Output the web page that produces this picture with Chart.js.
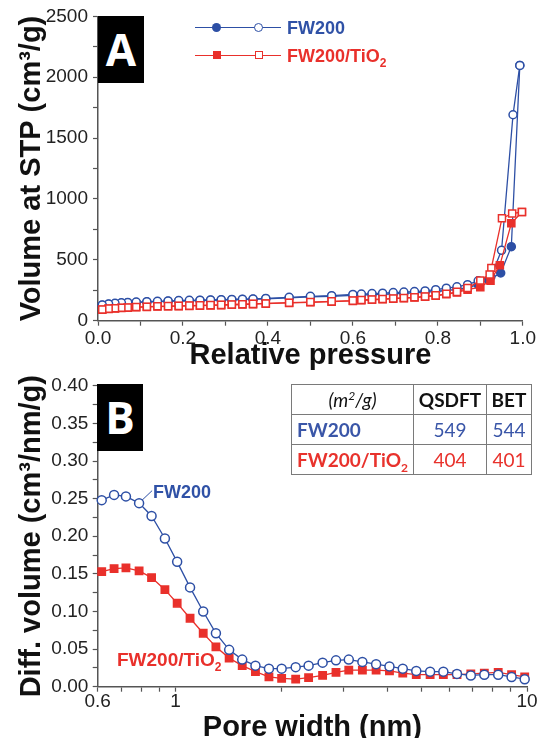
<!DOCTYPE html>
<html lang="en">
<head>
<meta charset="UTF-8">
<title>FW200 isotherms and pore size distribution</title>
<script src="https://cdn.jsdelivr.net/npm/chart.js"></script>
<style>
    body { margin: 0; background: #fff; font-family: Arial, "Liberation Sans", sans-serif; }
    .page { position: relative; width: 538px; height: 738px; overflow: hidden; }
    .panel { position: absolute; left: 0; width: 538px; }
    .tag { position: absolute; width: 46px; height: 67px; background: #000; color: #fff;
           font: bold 44px "Open Sans", Arial, sans-serif; text-align: center; line-height: 67px; }
    .lg-line { position: absolute; left: 195px; width: 86px; height: 1.5px; }
    .dot { position: absolute; width: 9px; height: 9px; border-radius: 50%; box-sizing: border-box; }
    .sq { position: absolute; width: 8px; height: 8px; box-sizing: border-box; }
    .note { position: absolute; font-weight: bold; font-size: 18px; line-height: 18px; white-space: nowrap; }
    .note sub { font-size: 12px; line-height: 0; vertical-align: -5px; }
    table.area { position: absolute; left: 291px; top: 384px; border-collapse: collapse;
                 font-family: Lato, "Open Sans", sans-serif; font-size: 19px; table-layout: fixed; }
    table.area td { border: 1.3px solid #7a7a7a; height: 29px; padding: 0; text-align: center; }
    table.area td.name { text-align: left; padding-left: 5px; font-weight: bold; }
    table.area th { border: 1.3px solid #7a7a7a; height: 29px; padding: 0; color: #111; }
    table.area sub { font-size: 12px; line-height: 0; vertical-align: -5px; }
</style>
</head>
<body>
<div class="page">
    <div class="panel" style="top:0;height:370px"><canvas id="chartA" width="538" height="370"></canvas></div>
    <div class="panel" style="top:370px;height:372px"><canvas id="chartB" width="538" height="372"></canvas></div>

    <div class="tag" style="left:98px;top:16px">A</div>
    <div class="tag" style="left:97px;top:384px">B</div>

    <!-- legend of panel A -->
    <div class="lg-line" style="top:26.5px;background:#2d4fa5"></div>
    <div class="dot" style="left:212px;top:22.8px;background:#2d4fa5"></div>
    <div class="dot" style="left:254px;top:22.8px;background:#fff;border:1.5px solid #2d4fa5"></div>
    <div class="note" style="left:287px;top:18.5px;color:#2f51a6">FW200</div>
    <div class="lg-line" style="top:54.5px;background:#e9302b"></div>
    <div class="sq" style="left:212.7px;top:51.3px;background:#e9302b"></div>
    <div class="sq" style="left:254.7px;top:51.3px;background:#fff;border:1.5px solid #e9302b"></div>
    <div class="note" style="left:287px;top:47px;color:#e9302b">FW200/TiO<sub>2</sub></div>

    <!-- labels of panel B -->
    <div class="note" style="left:153px;top:483px;color:#2f51a6">FW200</div>
    <div class="note" style="left:117px;top:651px;color:#e9302b;font-size:19px">FW200/TiO<sub>2</sub></div>

    <table class="area">
        <colgroup><col style="width:122px"><col style="width:73px"><col style="width:45px"></colgroup>
        <tr><th style="font-weight:normal;font-style:italic">(m<sup style="font-size:12px;line-height:0">2</sup>/g)</th><th>QSDFT</th><th>BET</th></tr>
        <tr style="color:#3a56a8"><td class="name">FW200</td><td>549</td><td>544</td></tr>
        <tr style="color:#e8322c"><td class="name">FW200/TiO<sub>2</sub></td><td>404</td><td>401</td></tr>
    </table>
</div>

<script>
    // Panel A: N2 isotherms (relative pressure vs volume at STP)
    const fwAdsP = [0.01, 0.025, 0.04, 0.055, 0.07, 0.09, 0.115, 0.14, 0.165, 0.19, 0.215, 0.24, 0.265, 0.29, 0.315, 0.34, 0.365, 0.395,
                    0.45, 0.50, 0.55, 0.60, 0.62, 0.645, 0.67, 0.695, 0.72, 0.745, 0.77, 0.795, 0.82, 0.845, 0.87, 0.895, 0.92, 0.948, 0.973, 0.993];
    const fwAdsV = [127, 135, 140, 144, 147, 150, 153, 156, 159, 162, 164, 166, 168, 170, 172, 174, 176, 180,
                    188, 195, 201, 208, 211, 214, 217, 221, 225, 229, 234, 240, 248, 258, 272, 296, 335, 392, 608, 2097];
    const fwDesP = [0.993, 0.977, 0.95, 0.925, 0.895, 0.87, 0.845, 0.82, 0.795, 0.77, 0.745, 0.72, 0.695, 0.67, 0.645, 0.62, 0.60,
                    0.55, 0.50, 0.45, 0.395, 0.365, 0.34, 0.315, 0.29, 0.265, 0.24, 0.215, 0.19, 0.165, 0.14, 0.115, 0.09, 0.07, 0.055, 0.04, 0.025, 0.01];
    const fwDesV = [2097, 1692, 578, 362, 328, 296, 278, 267, 255, 245, 239, 235, 231, 226, 223, 219, 216,
                    206, 200, 192, 183, 179, 177, 175, 173, 171, 169, 167, 165, 162, 159, 156, 153, 150, 147, 143, 138, 130];
    const tiAdsP = [0.01, 0.025, 0.04, 0.055, 0.07, 0.09, 0.115, 0.14, 0.165, 0.19, 0.215, 0.24, 0.265, 0.29, 0.315, 0.34, 0.365, 0.395,
                    0.45, 0.50, 0.55, 0.60, 0.62, 0.645, 0.67, 0.695, 0.72, 0.745, 0.77, 0.795, 0.82, 0.845, 0.87, 0.90, 0.924, 0.946, 0.973, 0.998];
    const tiAdsV = [90, 97, 101, 104, 107, 110, 113, 116, 118, 120, 122, 124, 126, 128, 131, 133, 136, 140,
                    146, 151, 157, 163, 168, 172, 176, 181, 185, 190, 197, 205, 217, 232, 255, 275, 329, 455, 800, 893];
    const tiDesP = [0.998, 0.975, 0.951, 0.926, 0.922, 0.90, 0.87, 0.845, 0.82, 0.795, 0.77, 0.745, 0.72, 0.695, 0.67, 0.645, 0.62, 0.60,
                    0.55, 0.50, 0.45, 0.395, 0.365, 0.34, 0.315, 0.29, 0.265, 0.24, 0.215, 0.19, 0.165, 0.14, 0.115, 0.09, 0.07, 0.055, 0.04, 0.025, 0.01];
    const tiDesV = [893, 880, 842, 433, 380, 330, 268, 237, 221, 208, 199, 192, 187, 183, 178, 174, 170, 165,
                    159, 153, 148, 142, 138, 135, 133, 130, 128, 126, 124, 122, 120, 118, 115, 112, 109, 106, 103, 99, 92];

    // Panel B: pore size distribution
    const poreWidth = [0.616, 0.668, 0.722, 0.787, 0.854, 0.932, 1.010, 1.099, 1.198, 1.302, 1.420, 1.547, 1.687, 1.843, 2.003, 2.196, 2.39,
                       2.62, 2.86, 3.11, 3.40, 3.72, 4.06, 4.43, 4.84, 5.30, 5.78, 6.32, 6.92, 7.56, 8.28, 9.04, 9.85];
    const fwPsd = [0.248, 0.255, 0.253, 0.244, 0.227, 0.197, 0.166, 0.132, 0.100, 0.071, 0.049, 0.036, 0.028, 0.024, 0.024, 0.026, 0.028,
                   0.032, 0.035, 0.036, 0.033, 0.030, 0.027, 0.024, 0.021, 0.020, 0.020, 0.017, 0.015, 0.016, 0.016, 0.013, 0.010];
    const tiPsd = [0.153, 0.157, 0.158, 0.154, 0.145, 0.129, 0.111, 0.091, 0.071, 0.053, 0.038, 0.028, 0.020, 0.013, 0.011, 0.010, 0.012,
                   0.015, 0.019, 0.022, 0.022, 0.022, 0.021, 0.018, 0.016, 0.016, 0.016, 0.016, 0.017, 0.018, 0.019, 0.016, 0.013];

    // Tick positions (all) and the ones that get a label
    const xTicksA = [0, 0.1, 0.2, 0.3, 0.4, 0.5, 0.6, 0.7, 0.8, 0.9, 1.0];
    const xLabelsA = [0, 0.2, 0.4, 0.6, 0.8, 1.0];
    const yTicksA = [0, 250, 500, 750, 1000, 1250, 1500, 1750, 2000, 2250, 2500];
    const yLabelsA = [0, 500, 1000, 1500, 2000, 2500];
    const xTicksB = [0.6, 0.7, 0.8, 0.9, 1, 2, 3, 4, 5, 6, 7, 8, 9, 10];
    const xLabelsB = [0.6, 1, 10];
    const yTicksB = [0, 0.025, 0.05, 0.075, 0.1, 0.125, 0.15, 0.175, 0.2, 0.225, 0.25, 0.275, 0.3, 0.325, 0.35, 0.375, 0.4];
    const yLabelsB = [0, 0.05, 0.1, 0.15, 0.2, 0.25, 0.3, 0.35, 0.4];

    const blue = '#2d4fa5';
    const red = '#e9302b';
    const axisColor = '#555';

    Chart.defaults.font.family = 'Arial, "Liberation Sans", sans-serif';

    function series(px, py, color, fill, shape, r) {
        return {
            data: px.map((x, i) => ({x: x, y: py[i]})),
            showLine: true,
            borderColor: color,
            borderWidth: 1.3,
            pointStyle: shape,
            pointRadius: r,
            pointBackgroundColor: fill,
            pointBorderColor: color,
            pointBorderWidth: 1.5,
            clip: false
        };
    }

    function hasLabel(list, v) {
        return list.some(l => Math.abs(l - v) < 1e-9);
    }

    // one axis with fixed size so the plot area lands where the figure has it
    function axis(opts) {
        const horiz = opts.horizontal;
        return {
            type: opts.type || 'linear',
            min: opts.min,
            max: opts.max,
            afterBuildTicks: s => { s.ticks = opts.ticks.map(v => ({value: v})); },
            afterFit: s => { if (horiz) s.height = opts.size; else s.width = opts.size; },
            border: {color: axisColor, width: 1.5},
            grid: {drawOnChartArea: false, tickLength: 5, color: axisColor, tickWidth: 1.2},
            ticks: {
                autoSkip: false, maxRotation: 0, padding: opts.pad, color: '#222', font: {size: 19},
                callback: v => hasLabel(opts.labels, v) ? opts.fmt(v) : ''
            },
            title: {
                display: true, text: opts.title, color: '#111',
                font: {size: 29, weight: 'bold', lineHeight: 1},
                padding: horiz ? 0 : {top: 17, bottom: 0}
            }
        };
    }

    const baseOptions = {
        responsive: false,
        animation: false,
        devicePixelRatio: 1,
        events: [],
        plugins: {legend: {display: false}, tooltip: {enabled: false}}
    };

    new Chart(document.getElementById('chartA'), {
        type: 'scatter',
        data: {
            datasets: [
                series(tiDesP, tiDesV, red, '#fff', 'rect', 5),
                series(tiAdsP, tiAdsV, red, red, 'rect', 5),
                series(fwDesP, fwDesV, blue, '#fff', 'circle', 4),
                series(fwAdsP, fwAdsV, blue, blue, 'circle', 4)
            ]
        },
        options: Object.assign({}, baseOptions, {
            layout: {padding: {left: 0, right: 13, top: 16, bottom: 0}},
            scales: {
                x: axis({horizontal: true, min: 0, max: 1, size: 49.3, pad: 2, ticks: xTicksA, labels: xLabelsA,
                         fmt: v => v.toFixed(1), title: 'Relative pressure'}),
                y: axis({min: 0, max: 2500, size: 98, pad: 5, ticks: yTicksA, labels: yLabelsA,
                         fmt: v => String(v), title: 'Volume at STP (cm³/g)'})
            }
        })
    });

    // short leader line from the FW200 curve to its label
    const leader = {
        id: 'leader',
        afterDatasetsDraw(chart) {
            const pt = chart.getDatasetMeta(0).data[3];
            const ctx = chart.ctx;
            ctx.save();
            ctx.strokeStyle = blue;
            ctx.lineWidth = 1;
            ctx.beginPath();
            ctx.moveTo(pt.x + 3, pt.y - 3);
            ctx.lineTo(pt.x + 13, pt.y - 12.5);
            ctx.stroke();
            ctx.restore();
        }
    };

    new Chart(document.getElementById('chartB'), {
        type: 'scatter',
        data: {
            datasets: [
                series(poreWidth, fwPsd, blue, '#fff', 'circle', 4.5),
                series(poreWidth, tiPsd, red, red, 'rect', 5.2)
            ]
        },
        options: Object.assign({}, baseOptions, {
            layout: {padding: {left: 0, right: 11, top: 15.7, bottom: 0}},
            scales: {
                x: axis({horizontal: true, type: 'logarithmic', min: 0.6, max: 10, size: 55.3, pad: -1, ticks: xTicksB,
                         labels: xLabelsB, fmt: v => String(v), title: 'Pore width (nm)'}),
                y: axis({min: 0, max: 0.4, size: 97.7, pad: 4.4, ticks: yTicksB, labels: yLabelsB,
                         fmt: v => v.toFixed(2), title: 'Diff. volume (cm³/nm/g)'})
            }
        }),
        plugins: [leader]
    });
</script>
</body>
</html>
